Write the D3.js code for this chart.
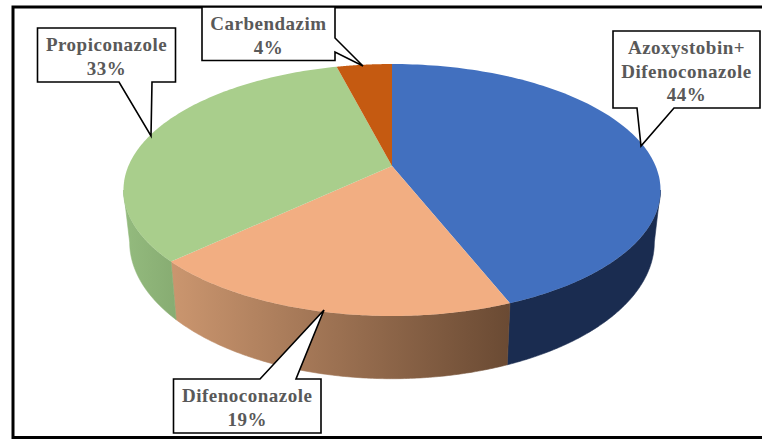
<!DOCTYPE html>
<html><head><meta charset="utf-8">
<script src="https://cdn.jsdelivr.net/npm/d3@7/dist/d3.min.js"></script>
<style>html,body{margin:0;padding:0;background:#fff}svg{display:block}</style>
</head><body><svg id="c" width="762" height="439"></svg>
<script>
const categories = ["Azoxystobin+\nDifenoconazole","Difenoconazole","Propiconazole","Carbendazim"];
const values = [44,19,33,4];
const topColors = ["#4270bf","#f2ae82","#a9ce8c","#c55a11"];
const sideColors = [["#1a2c50","#1a2c50"],["#cb966f","#6a4a33"],["#94bb7e","#87ac72"],["#7a3a0c","#7a3a0c"]];
const boxes = [
 {x:613,y:31,w:147,h:77,p:[[637,108],[674,108]],tip:[641,146]},
 {x:173.5,y:379,w:147.5,h:54,p:[[296,379],[260,379]],tip:[324,310]},
 {x:37.5,y:28,w:138,h:54,p:[[152,82],[119,82]],tip:[151,136]},
 {x:202,y:7,w:133,h:53.5,p:[[335,38],[335,52]],tip:[363,66]}
];

const svg = d3.select("#c");
const ax = 392, ay = 166, R = 263.6, A = 121.4, C = -0.1905;
const topP = t => { const u=Math.sin(t), v=-Math.cos(t), d=1+C*v; return [ax+R*u/d, ay+A*v/d]; };
const botP = t => { const u=Math.sin(t), v=-Math.cos(t), d=1+C*v; return [ax+0.977*R*u/d, ay+50+1.085*A*v/d]; };
const line = d3.line();
const arcs = d3.pie().sort(null)(values);
const sample = (a,b) => d3.range(0,121).map(i=>a+(b-a)*i/120);
const rightS = Math.PI/2 + Math.asin(0.1905); // right silhouette of the rim
const leftS = 2*Math.PI - rightS;

const defs = svg.append("defs");
arcs.forEach((a,i)=>{
  const s0=Math.max(a.startAngle,rightS), s1=Math.min(a.endAngle,leftS);
  if(s1<=s0) return;
  const ts=sample(s0,s1), tp=ts.map(topP), bp=ts.map(botP);
  const xs=tp.concat(bp).map(p=>p[0]);
  const g=defs.append("linearGradient").attr("id","g"+i).attr("gradientUnits","userSpaceOnUse")
    .attr("x1",d3.max(xs)).attr("x2",d3.min(xs)).attr("y1",0).attr("y2",0);
  g.append("stop").attr("offset",0).attr("stop-color",sideColors[i][1]);
  g.append("stop").attr("offset",1).attr("stop-color",sideColors[i][0]);
  svg.append("path").attr("d",line(tp.concat(bp.reverse()))+"Z")
    .attr("fill",`url(#g${i})`).attr("stroke",`url(#g${i})`).attr("stroke-width",0.6);
});
arcs.forEach((a,i)=>{
  const pts=[[ax,ay]].concat(sample(a.startAngle,a.endAngle).map(topP));
  svg.append("path").attr("d",line(pts)+"Z").attr("fill",topColors[i]);
});

// frame
svg.append("path").attr("d",line([[762,7],[13,7],[13,437.5],[762,437.5]]))
  .attr("fill","none").attr("stroke","#000").attr("stroke-width",3);

// callouts
boxes.forEach((b,i)=>{
  const pts=[[b.x,b.y],[b.x+b.w,b.y],[b.x+b.w,b.y+b.h],[b.x,b.y+b.h]];
  let poly;
  if(i===0) poly=[pts[0],pts[1],pts[2],b.p[1],b.tip,b.p[0],pts[3]];
  if(i===1) poly=[pts[0],b.p[1],b.tip,b.p[0],pts[1],pts[2],pts[3]];
  if(i===2) poly=[pts[0],pts[1],pts[2],b.p[0],b.tip,b.p[1],pts[3]];
  if(i===3) poly=[pts[0],pts[1],b.p[0],b.tip,b.p[1],pts[2],pts[3]];
  svg.append("path").attr("d",line(poly)+"Z").attr("fill","#fff").attr("stroke","#000")
    .attr("stroke-width",1.6).attr("stroke-linejoin","miter");
  const lines=categories[i].split("\n").concat([values[i]+"%"]);
  const t=svg.append("text").attr("text-anchor","middle")
    .attr("font-family","'Liberation Serif',serif").attr("font-weight","bold")
    .attr("font-size",19).attr("letter-spacing",0.5).attr("fill","#595959");
  const lh=23.5, y0=b.y+b.h/2-(lines.length-1)*lh/2+8;
  lines.forEach((l,k)=>t.append("tspan").attr("x",b.x+b.w/2).attr("y",y0+k*lh).text(l));
});
</script></body></html>
